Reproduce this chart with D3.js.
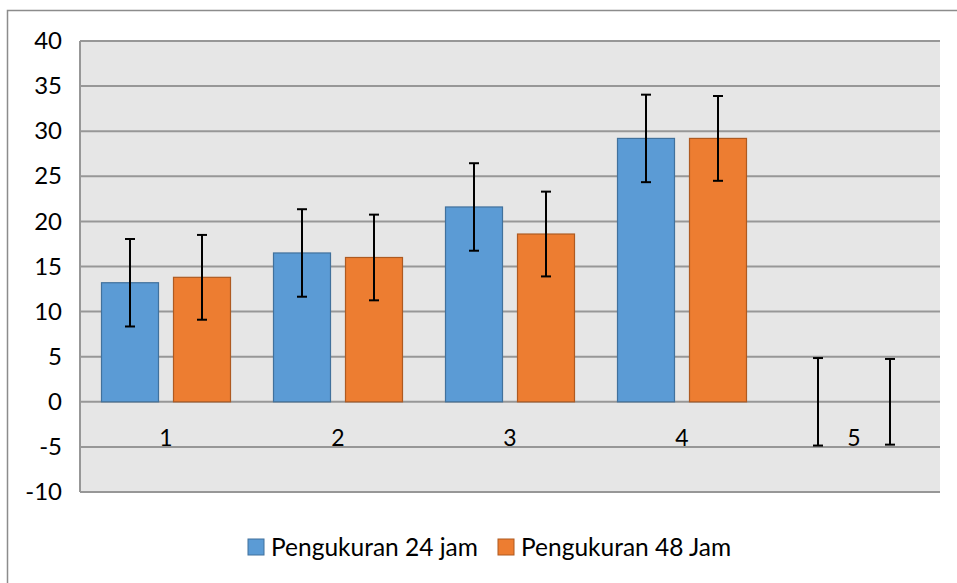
<!DOCTYPE html>
<html lang="id">
<head>
    <meta charset="UTF-8">
    <title>Pengukuran 24 jam vs 48 Jam</title>
    <script src="https://d3js.org/d3.v7.min.js"></script>
    <style>
        body { margin: 0; background: #fff; }
        svg { display: block; font-family: Lato, "Open Sans", sans-serif; }
    </style>
</head>
<body>
<div id="chart"></div>
<script>
    // data
    const categories = ["1", "2", "3", "4", "5"];
    const seriesNames = ["Pengukuran 24 jam", "Pengukuran 48 Jam"];
    const values24 = [13.2, 16.5, 21.6, 29.2, 0];
    const values48 = [13.8, 16.0, 18.6, 29.2, 0];
    const err24 = [4.85, 4.85, 4.85, 4.85, 4.85];
    const err48 = [4.7, 4.75, 4.7, 4.7, 4.75];
    const yTicks = [-10, -5, 0, 5, 10, 15, 20, 25, 30, 35, 40];
    const colors = ["#5B9BD5", "#ED7D31"];
    const borders = ["#41719C", "#AE5A21"];

    const W = 957, H = 583;
    const plot = {left: 80, right: 940, top: 41, bottom: 492};

    const svg = d3.select("#chart").append("svg")
        .attr("width", W).attr("height", H);

    // outer chart frame
    svg.append("path")
        .attr("d", `M7.5,${H} V10.5 H${W}`)
        .attr("fill", "none")
        .attr("stroke", "#8c8c8c")
        .attr("stroke-width", 1.5);

    const x = d3.scaleBand().domain(categories).range([plot.left, plot.right]);
    const y = d3.scaleLinear().domain([-10, 40]).range([plot.bottom, plot.top]);

    svg.append("rect")
        .attr("x", plot.left).attr("y", plot.top)
        .attr("width", plot.right - plot.left).attr("height", plot.bottom - plot.top)
        .attr("fill", "#e6e6e6");

    // gridlines
    svg.append("g").selectAll("line").data(yTicks).join("line")
        .attr("x1", plot.left).attr("x2", plot.right)
        .attr("y1", d => y(d)).attr("y2", d => y(d))
        .attr("stroke", "#979797").attr("stroke-width", 2);

    svg.append("line")
        .attr("x1", plot.left).attr("x2", plot.left)
        .attr("y1", plot.top).attr("y2", plot.bottom)
        .attr("stroke", "#979797").attr("stroke-width", 2);

    // y axis labels (plain hyphen for negatives, like the original)
    const yAxis = d3.axisLeft(y).tickValues(yTicks).tickSize(0).tickPadding(18)
        .tickFormat(d => String(d));
    const gy = svg.append("g").attr("transform", `translate(${plot.left},0)`).call(yAxis);
    gy.select(".domain").remove();
    gy.selectAll("text").attr("font-size", 24).attr("fill", "#000")
        .attr("font-family", "Lato, 'Open Sans', sans-serif");

    // bars
    const offset = 36, barW = 57;
    const series = [
        {vals: values24, errs: err24, dx: -offset},
        {vals: values48, errs: err48, dx: offset}
    ];

    series.forEach((s, si) => {
        const g = svg.append("g");
        g.selectAll("rect").data(categories).join("rect")
            .attr("x", (c) => x(c) + x.bandwidth() / 2 + s.dx - barW / 2)
            .attr("width", barW)
            .attr("y", (c, i) => y(Math.max(0, s.vals[i])))
            .attr("height", (c, i) => Math.abs(y(s.vals[i]) - y(0)))
            .attr("fill", colors[si])
            .attr("stroke", borders[si])
            .attr("stroke-width", (c, i) => s.vals[i] === 0 ? 0 : 1.2);
    });

    // category axis labels at y = 0
    svg.append("g").selectAll("text").data(categories).join("text")
        .attr("x", c => x(c) + x.bandwidth() / 2)
        .attr("y", y(0) + 44)
        .attr("text-anchor", "middle")
        .attr("font-size", 23)
        .attr("fill", "#000")
        .text(c => c);

    // error bars
    series.forEach((s) => {
        const g = svg.append("g").attr("stroke", "#000").attr("stroke-width", 2);
        categories.forEach((c, i) => {
            const cx = x(c) + x.bandwidth() / 2 + s.dx;
            const hi = y(s.vals[i] + s.errs[i]), lo = y(s.vals[i] - s.errs[i]);
            g.append("line").attr("x1", cx).attr("x2", cx).attr("y1", hi).attr("y2", lo);
            g.append("line").attr("x1", cx - 5).attr("x2", cx + 5).attr("y1", hi).attr("y2", hi);
            g.append("line").attr("x1", cx - 5).attr("x2", cx + 5).attr("y1", lo).attr("y2", lo);
        });
    });

    // legend
    const legend = svg.append("g").attr("transform", "translate(0,548)");
    const legendItems = [
        {label: seriesNames[0], x: 248},
        {label: seriesNames[1], x: 498}
    ];
    legendItems.forEach((d, i) => {
        legend.append("rect")
            .attr("x", d.x).attr("y", -9)
            .attr("width", 16).attr("height", 16)
            .attr("fill", colors[i]).attr("stroke", borders[i]).attr("stroke-width", 1);
        legend.append("text")
            .attr("x", d.x + 23).attr("y", 8)
            .attr("font-size", 24.5).attr("fill", "#000")
            .text(d.label);
    });
</script>
</body>
</html>
